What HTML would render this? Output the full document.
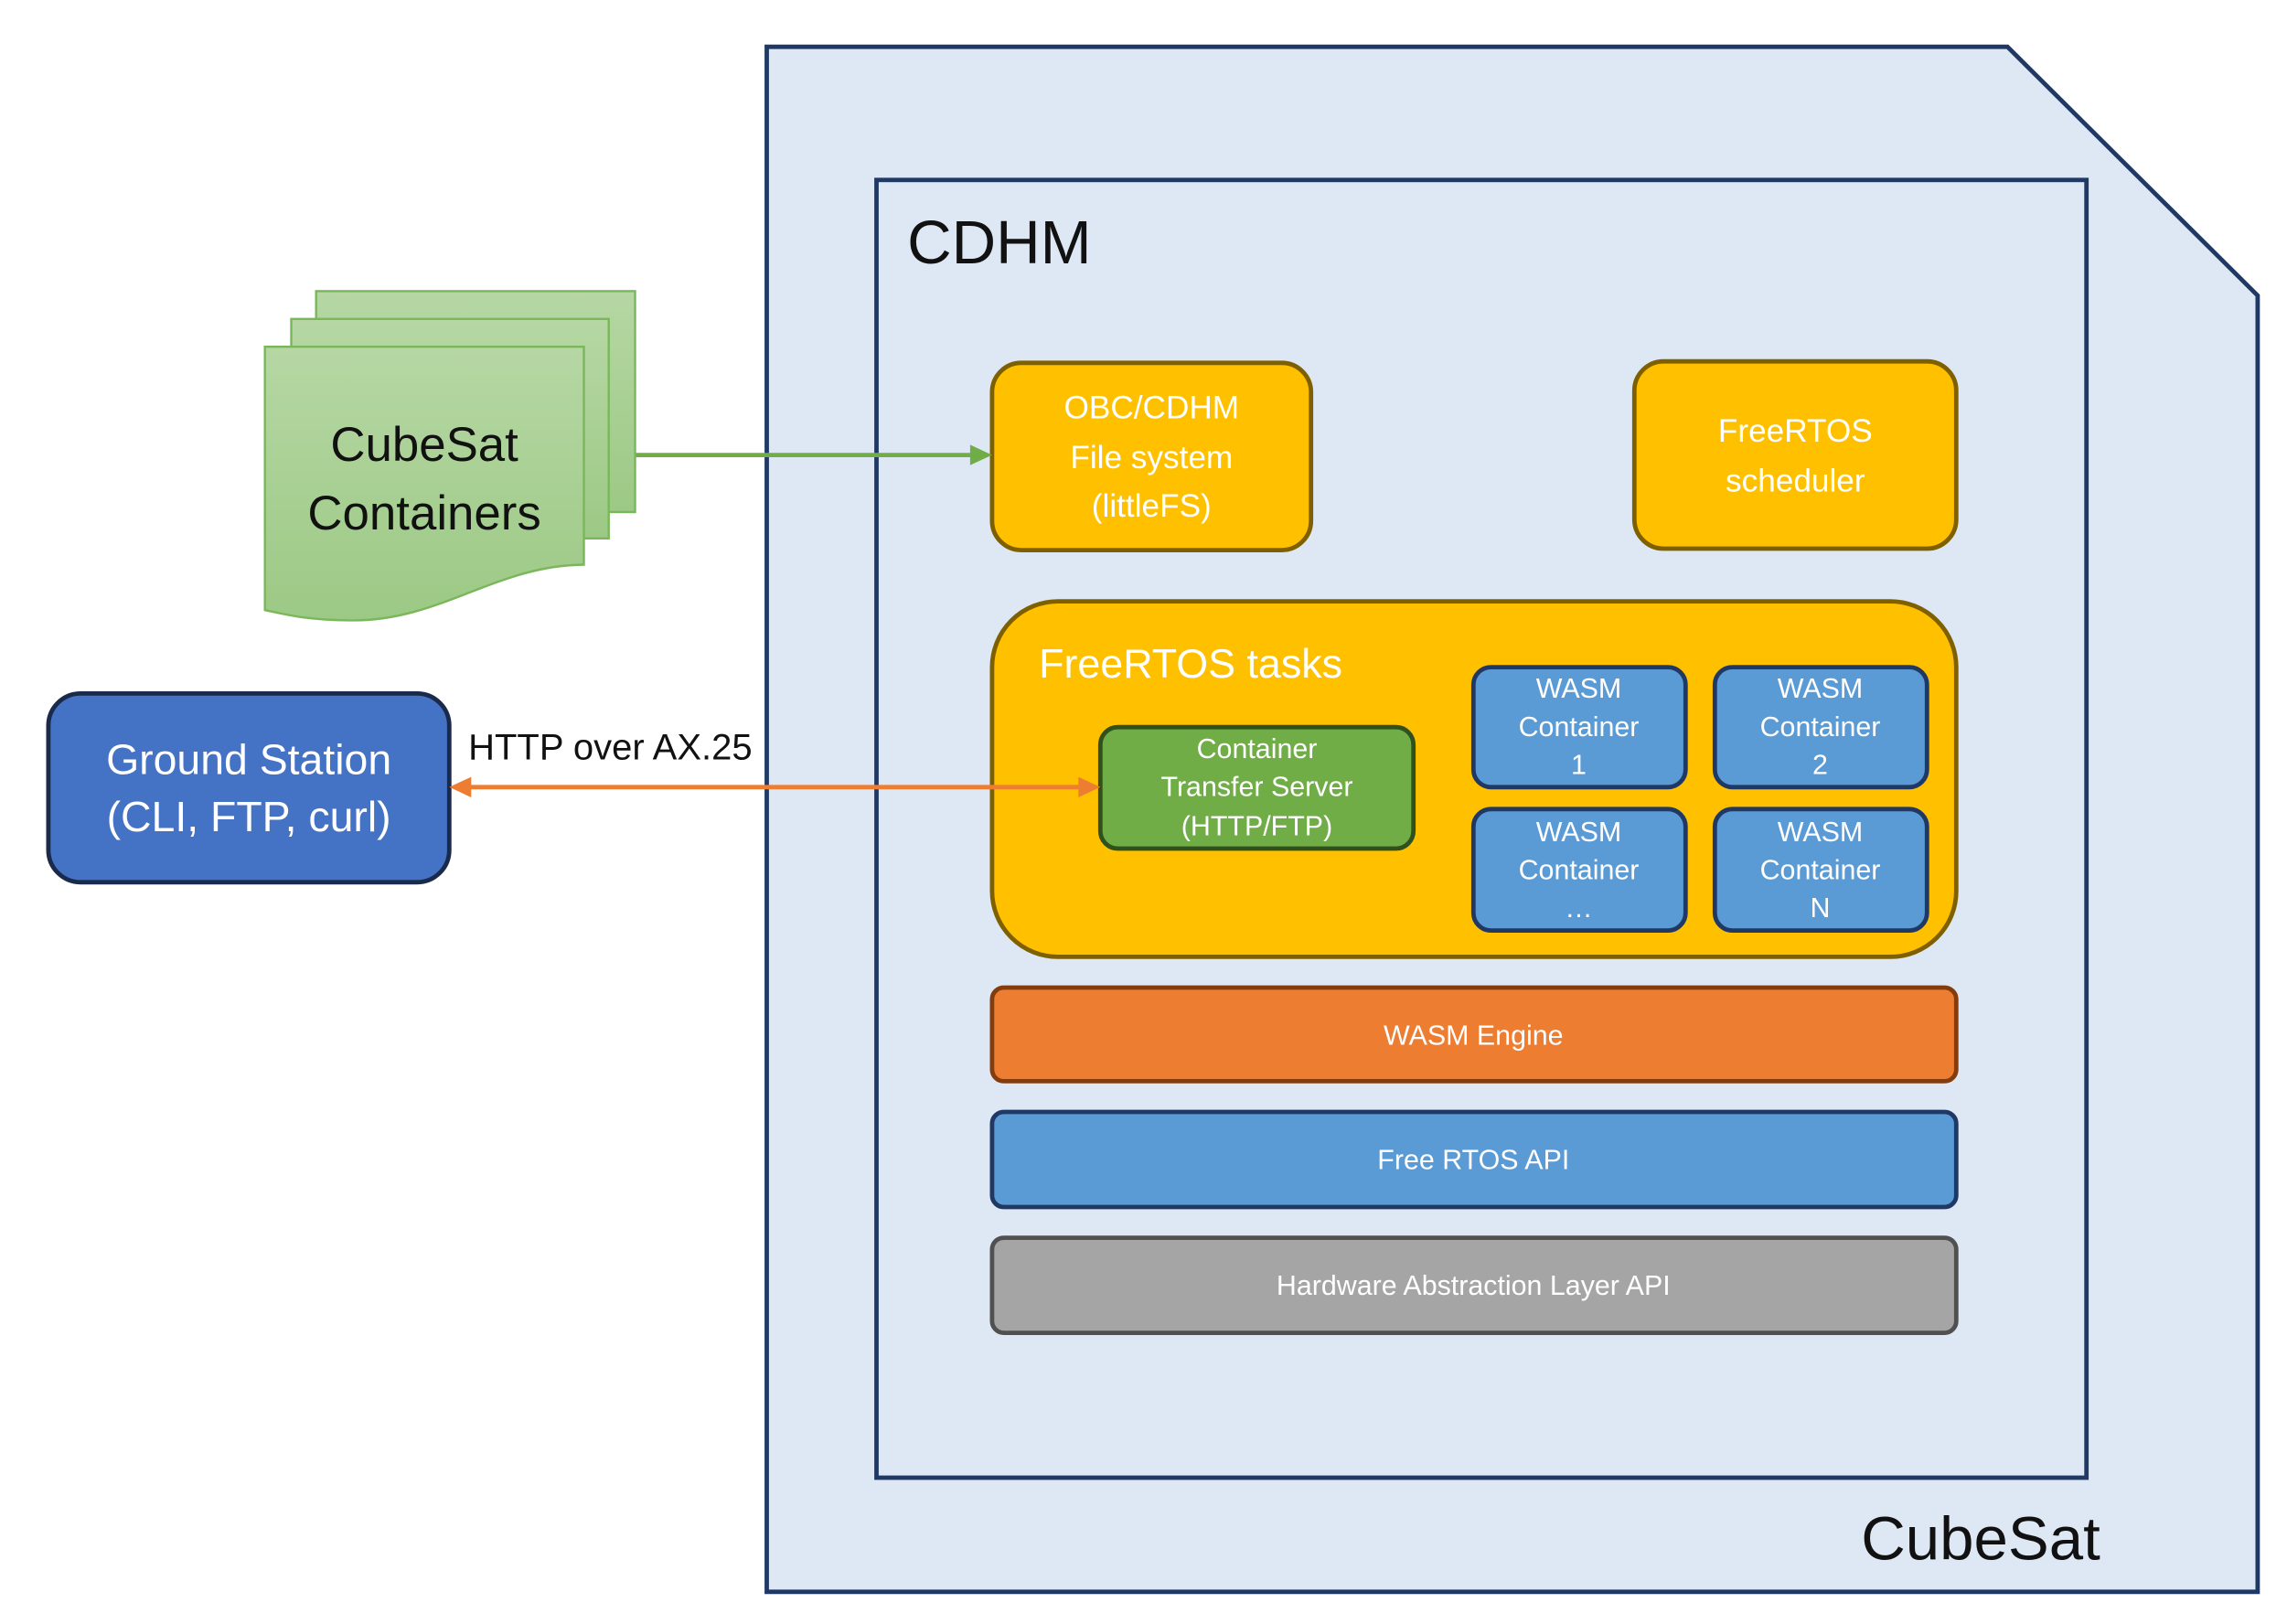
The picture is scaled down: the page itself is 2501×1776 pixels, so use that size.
<!DOCTYPE html>
<html><head><meta charset="utf-8"><style>html,body{margin:0;padding:0;background:#fff}svg{display:block}text{font-family:"Liberation Sans",sans-serif}</style></head>
<body>
<svg width="2501" height="1776" viewBox="0 0 1563 1110" xmlns="http://www.w3.org/2000/svg">
<defs>
<linearGradient id="g" x1="0" y1="0" x2="0" y2="1"><stop offset="0" stop-color="#b6d7a4"/><stop offset="1" stop-color="#9cc985"/></linearGradient>
</defs>
<polygon points="524,32 1372,32 1543,202 1543,1088 524,1088" fill="#dee8f4" stroke="#1f3864" stroke-width="3"/>
<rect x="599" y="123" width="827" height="887" fill="#dee8f4" stroke="#1f3864" stroke-width="3"/>
<text x="620" y="180" font-size="42" fill="#111">CDHM</text>
<text x="1272" y="1066" font-size="42" fill="#111">CubeSat</text>

<rect x="678" y="248" width="218" height="128" rx="20" fill="#ffc000" stroke="#7f6000" stroke-width="3"/>
<g fill="#fff" font-size="22" text-anchor="middle"><text x="787" y="286">OBC/CDHM</text><text x="787" y="320">File system</text><text x="787" y="353">(littleFS)</text></g>
<rect x="1117" y="247" width="220" height="128" rx="20" fill="#ffc000" stroke="#7f6000" stroke-width="3"/>
<g fill="#fff" font-size="22" text-anchor="middle"><text x="1227" y="302">FreeRTOS</text><text x="1227" y="336">scheduler</text></g>

<rect x="678" y="411" width="659" height="243" rx="45" fill="#ffc000" stroke="#7f6000" stroke-width="3"/>
<text x="710" y="463" font-size="28" fill="#fff">FreeRTOS tasks</text>
<rect x="752" y="497" width="214" height="83" rx="12" fill="#70ad47" stroke="#30511c" stroke-width="3"/>
<g fill="#fff" font-size="19" text-anchor="middle"><text x="859" y="518">Container</text><text x="859" y="544">Transfer Server</text><text x="859" y="571">(HTTP/FTP)</text></g>
<g stroke="#1f3864" stroke-width="3" fill="#5b9bd5">
<rect x="1007" y="456" width="145" height="82" rx="12"/><rect x="1172" y="456" width="145" height="82" rx="12"/>
<rect x="1007" y="553" width="145" height="83" rx="12"/><rect x="1172" y="553" width="145" height="83" rx="12"/>
</g>
<g fill="#fff" font-size="19" text-anchor="middle">
<text x="1079" y="477">WASM</text><text x="1079" y="503">Container</text><text x="1079" y="529">1</text>
<text x="1244" y="477">WASM</text><text x="1244" y="503">Container</text><text x="1244" y="529">2</text>
<text x="1079" y="575">WASM</text><text x="1079" y="601">Container</text><text x="1079" y="627">…</text>
<text x="1244" y="575">WASM</text><text x="1244" y="601">Container</text><text x="1244" y="627">N</text>
</g>

<rect x="678" y="675" width="659" height="64" rx="8" fill="#ed7d31" stroke="#843c0c" stroke-width="3"/>
<text x="1007" y="714" font-size="19" fill="#fff" text-anchor="middle">WASM Engine</text>
<rect x="678" y="760" width="659" height="65" rx="8" fill="#5b9bd5" stroke="#1f3864" stroke-width="3"/>
<text x="1007" y="799" font-size="19" fill="#fff" text-anchor="middle">Free RTOS API</text>
<rect x="678" y="846" width="659" height="65" rx="8" fill="#a5a5a5" stroke="#505050" stroke-width="3"/>
<text x="1007" y="885" font-size="19" fill="#fff" text-anchor="middle">Hardware Abstraction Layer API</text>

<rect x="33" y="474" width="274" height="129" rx="22" fill="#4472c4" stroke="#1a2a4a" stroke-width="3"/>
<g fill="#fff" font-size="29" text-anchor="middle"><text x="170" y="529">Ground Station</text><text x="170" y="568">(CLI, FTP, curl)</text></g>

<line x1="318" y1="538" x2="740" y2="538" stroke="#ed7d31" stroke-width="3"/>
<polygon points="307,538 322,531 322,545" fill="#ed7d31"/>
<polygon points="752,538 737,531 737,545" fill="#ed7d31"/>
<text x="320" y="519" font-size="25" fill="#111">HTTP over AX.25</text>

<line x1="434" y1="311" x2="665" y2="311" stroke="#70ad47" stroke-width="3"/>
<polygon points="678,311 663,304 663,318" fill="#70ad47"/>

<g stroke="#7ab75a" stroke-width="1.5" fill="url(#g)">
<rect x="216" y="199" width="218" height="151"/>
<rect x="199" y="218" width="217" height="150"/>
<path d="M181,237 H399 V386 C340,386 300,425 240,424 C210,424 195,420 181,417 Z"/>
</g>
<g fill="#111" font-size="33" text-anchor="middle"><text x="290" y="315">CubeSat</text><text x="290" y="362">Containers</text></g>
</svg>
</body></html>
